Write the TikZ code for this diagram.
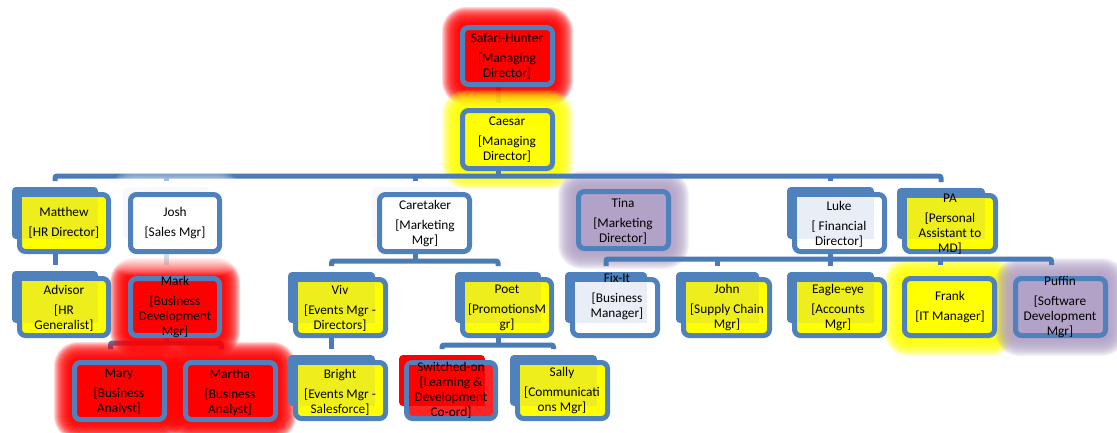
\documentclass[tikz,border=0pt]{standalone}
\usepackage{fontspec}
\setmainfont{Carlito}
\definecolor{boxblue}{HTML}{4F81BD}
\definecolor{busblue}{HTML}{4A7BB7}
\definecolor{ylw}{HTML}{FFFF00}
\definecolor{ylwtint}{HTML}{EEEE1C}
\definecolor{redfill}{HTML}{FF0000}
\definecolor{redfront}{HTML}{FF2424}
\definecolor{lilac}{HTML}{B3A2C7}
\definecolor{paletint}{HTML}{E9EDF5}
\definecolor{ghost}{HTML}{F7F8FB}
\pgfdeclarelayer{paper}
\pgfdeclarelayer{deep}
\pgfdeclarelayer{glowa}
\pgfdeclarelayer{conns}
\pgfdeclarelayer{glowb}
\pgfsetlayers{paper,deep,glowa,conns,glowb,main}

% One chart entry: #1 name, #2..#5 outer edges of the front box (x0,y0,x1,y1),
% #6 colour of the shape behind, #7 front fill, #8 tint of the inner panel.
% The node named #1 is the shape behind; connectors attach to it.
\newcommand\orgunit[8]{%
  \pgfmathsetmacro\bxa{#2-5}\pgfmathsetmacro\bya{#3-5}%
  \pgfmathsetmacro\bxb{#4-13}\pgfmathsetmacro\byb{#5-15}%
  \pgfmathsetmacro\bw{\bxb-\bxa}\pgfmathsetmacro\bh{\byb-\bya}%
  \pgfmathsetmacro\bcx{(\bxa+\bxb)/2}\pgfmathsetmacro\bcy{(\bya+\byb)/2}%
  \pgfmathsetmacro\fw{#4-#2-5}\pgfmathsetmacro\fh{#5-#3-5}%
  \pgfmathsetmacro\fcx{(#2+#4)/2}\pgfmathsetmacro\fcy{(#3+#5)/2}%
  \node[backbox, fill=#6, minimum width=\bw pt, minimum height=\bh pt] (#1) at (\bcx,\bcy) {};
  \node[frontbox, fill=#7, minimum width=\fw pt, minimum height=\fh pt] (#1-f) at (\fcx,\fcy) {};
  \path[fill=#8] (\bxa+10,\bya+10) rectangle (\bxb,\byb);
}

% Soft glow around a front box: stacked translucent rounded rectangles.
\newcommand\glowat[4][18]{%
  \foreach \r in {1,2,...,#1}{%
    \pgfmathsetmacro\rr{\r+2.5}%
    \pgfmathsetmacro\rc{\r+6}%
    \fill[#3, fill opacity=#4, rounded corners=\rc pt]
      ([shift={(-\rr pt,\rr pt)}]#2.north west) rectangle ([shift={(\rr pt,-\rr pt)}]#2.south east);
  }}

\begin{document}
\begin{tikzpicture}[x=1pt,y=-1pt,
  conn/.style={draw=busblue, line width=5pt, rounded corners=2pt},
  backbox/.style={draw=none, rounded corners=4pt, inner sep=0pt, outer sep=0pt},
  frontbox/.style={draw=boxblue, line width=5pt, rounded corners=6pt, inner sep=0pt, outer sep=0pt},
  lbl/.style={align=center, font=\fontsize{13.3}{15}\selectfont, inner sep=0pt, text=black},
]
\begin{pgfonlayer}{paper}
  \fill[white] (0,0) rectangle (1117,432);
\end{pgfonlayer}
\useasboundingbox (0,0) rectangle (1117,432);

% ---- boxes ----
\orgunit{safari}{460}{25}{555}{87}{none}{redfill}{none}
\orgunit{caesar}{460}{108}{555}{171}{none}{ylw}{none}

\orgunit{matthew}{17}{192}{111}{254}{boxblue}{ylw}{ylwtint}
\orgunit{josh}{128}{192}{222}{254}{ghost}{white}{none}
\orgunit{caretaker}{377}{192}{472}{254}{ghost}{white}{none}
\orgunit{tina}{576}{189}{671}{251}{none}{lilac}{none}
\orgunit{luke}{792}{192}{887}{254}{boxblue}{white}{paletint}
\orgunit{pa}{902}{193}{998}{254}{boxblue}{ylw}{ylwtint}

\orgunit{advisor}{17}{276}{111}{338}{boxblue}{ylw}{ylwtint}
\orgunit{mark}{128}{276}{222}{338}{none}{redfill}{none}
\orgunit{viv}{293}{277}{388}{338}{boxblue}{ylw}{ylwtint}
\orgunit{poet}{460}{277}{554}{338}{boxblue}{ylw}{ylwtint}
\orgunit{fixit}{570}{277}{660}{338}{boxblue}{white}{paletint}
\orgunit{john}{681}{277}{772}{338}{boxblue}{ylw}{ylwtint}
\orgunit{eagle}{792}{277}{887}{338}{boxblue}{ylw}{ylwtint}
\orgunit{frank}{902}{276}{997}{338}{none}{ylw}{none}
\orgunit{puffin}{1013}{276}{1108}{338}{none}{lilac}{none}

\orgunit{mary}{72}{360}{167}{422}{none}{redfill}{none}
\orgunit{martha}{183}{360}{278}{422}{none}{redfill}{none}
\orgunit{bright}{293}{360}{388}{421}{boxblue}{ylw}{ylwtint}
\orgunit{switched}{404}{360}{498}{421}{redfill}{redfront}{redfill}
\orgunit{sally}{515}{360}{610}{421}{boxblue}{ylw}{ylwtint}

% ---- labels ----
\node[lbl] (safari-t) at (507,56) {Safari-Hunter\\[5pt][Managing\\Director]};
\node[lbl] (caesar-t) at (507,140) {Caesar\\[5pt][Managing\\Director]};
\node[lbl] (matthew-t) at (64,223) {Matthew\\[5pt][HR Director]};
\node[lbl] (josh-t) at (175,223) {Josh\\[5pt][Sales Mgr]};
\node[lbl] (caretaker-t) at (425,224) {Caretaker\\[5pt][Marketing\\Mgr]};
\node[lbl] (tina-t) at (623,221) {Tina\\[5pt][Marketing\\Director]};
\node[lbl] (luke-t) at (839,224) {Luke\\[5pt][\ Financial\\Director]};
\node[lbl] (pa-t) at (950,224) {PA\\[5pt][Personal\\Assistant to\\MD]};
\node[lbl] (advisor-t) at (64,308) {Advisor\\[5pt][HR\\Generalist]};
\node[lbl] (mark-t) at (175,307) {Mark\\[5pt][Business\\Development\\Mgr]};
\node[lbl] (viv-t) at (340,308) {Viv\\[5pt][Events Mgr -\\Directors]};
\node[lbl] (poet-t) at (507,308) {Poet\\[5pt][PromotionsM\\gr]};
\node[lbl] (fixit-t) at (617,297) {Fix-It\\[5pt][Business\\Manager]};
\node[lbl] (john-t) at (727,308) {John\\[5pt][Supply Chain\\Mgr]};
\node[lbl] (eagle-t) at (838,308) {Eagle-eye\\[5pt][Accounts\\Mgr]};
\node[lbl] (frank-t) at (950,307) {Frank\\[5pt][IT Manager]};
\node[lbl] (puffin-t) at (1060,307) {Puffin\\[5pt][Software\\Development\\Mgr]};
\node[lbl] (mary-t) at (119,392) {Mary\\[5pt][Business\\Analyst]};
\node[lbl] (martha-t) at (230,392) {Martha\\[5pt][Business\\Analyst]};
\node[lbl] (bright-t) at (340,392) {Bright\\[5pt][Events Mgr -\\Salesforce]};
\node[lbl] (switched-t) at (451,390) {Switched-on\\[0pt][Learning \&\\Development\\Co-ord]};
\node[lbl] (sally-t) at (562,391) {Sally\\[5pt][Communicati\\ons Mgr]};

% ---- bus levels ----
\coordinate (busA) at (0,176);
\coordinate (busB) at (0,261);
\coordinate (busC) at (0,343);
\coordinate (busD) at (0,345);
\coordinate (busE) at (0,259);

% ---- glows ----
\begin{pgfonlayer}{glowa}
  \glowat{safari-f}{redfill}{0.15}
  \glowat{caesar-f}{ylw}{0.15}
  \glowat{tina-f}{lilac}{0.13}
  \glowat{frank-f}{ylw}{0.14}
  \glowat{puffin-f}{lilac}{0.13}
\end{pgfonlayer}
\begin{pgfonlayer}{glowb}
  \glowat{mark-f}{redfill}{0.15}
  \glowat{mary-f}{redfill}{0.15}
  \glowat{martha-f}{redfill}{0.15}
  \glowat[22]{josh-f}{white}{0.07}
\end{pgfonlayer}

% ---- connectors ----
\begin{pgfonlayer}{deep}
  \draw[conn] (safari.south) -- (caesar.north);
\end{pgfonlayer}
\begin{pgfonlayer}{conns}
  \draw[conn] (caesar.south) -- (caesar |- busA);
  \draw[conn] ([yshift=6pt]matthew.north) |- (busA -| pa) -- ([yshift=6pt]pa.north);
  \foreach \n in {josh,caretaker,tina,luke}
    \draw[conn] ([yshift=6pt]\n.north) -- (\n |- busA);

  \draw[conn] (matthew.south) -- ([yshift=6pt]advisor.north);
  \draw[conn] (josh.south) -- ([yshift=6pt]mark.north);

  \draw[conn] (mark.south) -- (mark |- busC);
  \draw[conn] ([yshift=6pt]mary.north) |- (busC -| martha) -- ([yshift=6pt]martha.north);

  \draw[conn] (caretaker.south) -- (caretaker |- busB);
  \draw[conn] ([yshift=6pt]viv.north) |- (busB -| poet) -- ([yshift=6pt]poet.north);
  \draw[conn] (viv.south) -- ([yshift=6pt]bright.north);

  \draw[conn] (poet.south) -- (poet |- busD);
  \draw[conn] ([yshift=6pt]switched.north) |- (busD -| sally) -- ([yshift=6pt]sally.north);

  \draw[conn] (luke.south) -- (luke |- busE);
  \draw[conn] ([yshift=6pt]fixit.north) |- (busE -| puffin) -- ([yshift=6pt]puffin.north);
  \foreach \n in {john,eagle,frank}
    \draw[conn] ([yshift=6pt]\n.north) -- (\n |- busE);
\end{pgfonlayer}
\end{tikzpicture}
\end{document}
